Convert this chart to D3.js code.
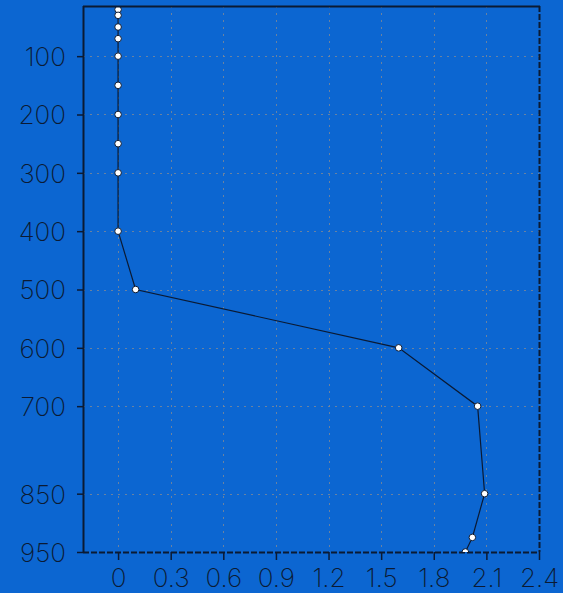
<!DOCTYPE html>
<html>
<head>
<meta charset="utf-8">
<script src="https://cdn.jsdelivr.net/npm/d3@7"></script>
<style>
  html, body { margin: 0; padding: 0; background: #0c66d1; }
  svg { display: block; }
  .lbl { font-family: "Inter", "Open Sans", sans-serif; font-weight: 200; font-size: 26px; fill: #0b1a33; }
</style>
</head>
<body>
<svg id="chart" width="563" height="593"></svg>
<script>
// Profile: pressure levels (hPa) and the value at each level
const pressureLevels = [10, 20, 30, 50, 70, 100, 150, 200, 250, 300, 400, 500, 600, 700, 850, 925, 950];
const profileValues  = [0, 0, 0, 0, 0, 0, 0, 0, 0, 0, 0, 0.1, 1.6, 2.05, 2.09, 2.02, 1.98];
const xTickValues = [0, 0.3, 0.6, 0.9, 1.2, 1.5, 1.8, 2.1, 2.4];
const yTickValues = [100, 200, 300, 400, 500, 600, 700, 850, 950];

const W = 563, H = 593;
const plotL = 83, plotR = 539, plotT = 6, plotB = 552;
const ink = "#0b1a33";
const gridColor = "#7a8799";

const svg = d3.select("#chart");

const x = d3.scaleLinear().domain([-0.2, 2.4]).range([plotL, plotR]);
const y = d3.scaleLinear().domain([950, 14]).range([plotB, plotT]);

svg.append("rect").attr("width", W).attr("height", H).attr("fill", "#0c66d1");

svg.append("defs").append("clipPath").attr("id", "plot-clip")
  .append("rect").attr("x", plotL).attr("y", plotT).attr("width", plotR - plotL).attr("height", plotB - plotT);

// dotted grid
const grid = svg.append("g").attr("stroke", gridColor).attr("stroke-opacity", 0.85)
  .attr("stroke-width", 1).attr("stroke-dasharray", "2,5");
grid.selectAll("line.v").data(xTickValues.filter(v => v < 2.4)).join("line")
  .attr("x1", d => Math.round(x(d)) + 0.5).attr("x2", d => Math.round(x(d)) + 0.5)
  .attr("y1", plotT).attr("y2", plotB);
grid.selectAll("line.h").data(yTickValues.filter(v => v < 950)).join("line")
  .attr("y1", d => Math.round(y(d)) + 0.5).attr("y2", d => Math.round(y(d)) + 0.5)
  .attr("x1", plotL).attr("x2", plotR);

// frame: solid left, dashed right and bottom
svg.append("line").attr("x1", plotL + 0.5).attr("x2", plotL + 0.5).attr("y1", plotT).attr("y2", plotB + 1)
  .attr("stroke", ink).attr("stroke-width", 2);
svg.append("line").attr("x1", plotR + 0.5).attr("x2", plotR + 0.5).attr("y1", plotT).attr("y2", plotB)
  .attr("stroke", ink).attr("stroke-width", 2).attr("stroke-dasharray", "6,2");
svg.append("line").attr("x1", plotL).attr("x2", plotR + 1).attr("y1", plotB + 0.5).attr("y2", plotB + 0.5)
  .attr("stroke", ink).attr("stroke-width", 2).attr("stroke-dasharray", "6,2");

// Y axis (pressure)
const yAxis = d3.axisLeft(y).tickValues(yTickValues).tickSize(6).tickPadding(11);
const gy = svg.append("g").attr("transform", `translate(${plotL},0)`).call(yAxis);
gy.select(".domain").remove();
gy.selectAll(".tick line").attr("stroke", ink).attr("stroke-width", 1.5);
gy.selectAll(".tick text").attr("class", "lbl").attr("dy", "0.36em");

// X axis
const xAxis = d3.axisBottom(x).tickValues(xTickValues).tickSize(8).tickPadding(6)
  .tickFormat(d => d3.format("~g")(d));
const gx = svg.append("g").attr("transform", `translate(0,${plotB})`).call(xAxis);
gx.select(".domain").remove();
gx.selectAll(".tick line").attr("stroke", ink).attr("stroke-width", 1.5);
gx.selectAll(".tick text").attr("class", "lbl").attr("dy", "0.8em");

// profile line and markers
const pts = pressureLevels.map((p, i) => ({ p, v: profileValues[i] }));
const plot = svg.append("g").attr("clip-path", "url(#plot-clip)");
plot.append("path").datum(pts)
  .attr("fill", "none").attr("stroke", ink).attr("stroke-width", 1.2)
  .attr("d", d3.line().x(d => x(d.v)).y(d => y(d.p)));
plot.selectAll("circle").data(pts).join("circle")
  .attr("cx", d => x(d.v)).attr("cy", d => y(d.p)).attr("r", 3.3)
  .attr("fill", "#ffffff").attr("stroke", ink).attr("stroke-width", 1);

// top edge drawn last so it sits over clipped markers
svg.append("line").attr("x1", plotL).attr("x2", plotR + 1).attr("y1", plotT + 0.5).attr("y2", plotT + 0.5)
  .attr("stroke", ink).attr("stroke-width", 2);
</script>
</body>
</html>
